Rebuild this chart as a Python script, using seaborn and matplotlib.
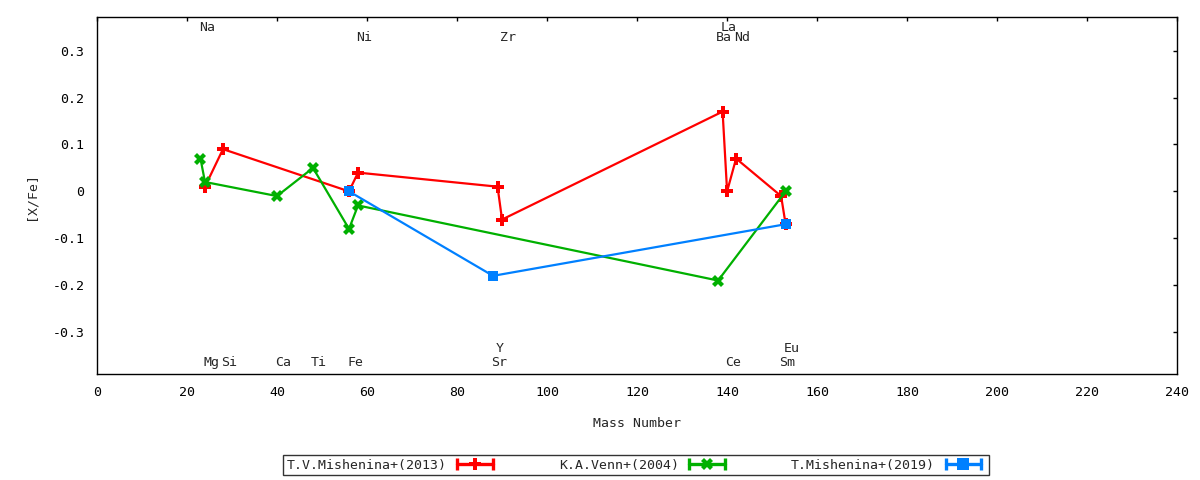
import matplotlib
matplotlib.use('Agg')
import matplotlib.pyplot as plt
import seaborn as sns
import pandas as pd
from matplotlib.lines import Line2D
from matplotlib.legend_handler import HandlerLine2D, HandlerTuple

# T.V.Mishenina+(2013)
mish13_mass = [24, 28, 56, 58, 89, 90, 139, 140, 142, 152, 153]
mish13_xfe = [0.01, 0.09, 0.00, 0.04, 0.01, -0.06, 0.17, 0.00, 0.07, -0.01, -0.07]
# K.A.Venn+(2004)
venn_mass = [23, 24, 40, 48, 56, 58, 138, 153]
venn_xfe = [0.07, 0.02, -0.01, 0.05, -0.08, -0.03, -0.19, 0.00]
# T.Mishenina+(2019)
mish19_mass = [56, 88, 153]
mish19_xfe = [0.00, -0.18, -0.07]

# element labels along the top / bottom of the frame
elements = ['Na', 'Mg', 'Si', 'Ca', 'Ti', 'Fe', 'Ni', 'Sr', 'Y', 'Zr',
            'Ba', 'La', 'Ce', 'Nd', 'Sm', 'Eu']
element_mass = [23, 24, 28, 40, 48, 56, 58, 88, 89, 90, 138, 139, 140, 142, 152, 153]
label_y = [0.35, -0.364, -0.364, -0.364, -0.364, -0.364, 0.327, -0.364, -0.335, 0.327,
           0.327, 0.35, -0.364, 0.327, -0.364, -0.335]

series = [
    ('T.V.Mishenina+(2013)', mish13_mass, mish13_xfe, '#ff0000', 'P'),
    ('K.A.Venn+(2004)', venn_mass, venn_xfe, '#00b000', 'X'),
    ('T.Mishenina+(2019)', mish19_mass, mish19_xfe, '#0080ff', 's'),
]

sns.set_style('white')
plt.rcParams['font.family'] = ['DejaVu Sans Mono']
fs = 9.5

fig, ax = plt.subplots(figsize=(12, 4.8), dpi=100)
fig.subplots_adjust(left=0.0808, right=0.981, top=0.964, bottom=0.221)

handles = []
hmap = {}
for i, (name, mass, xfe, col, mk) in enumerate(series):
    df = pd.DataFrame({'mass': mass, 'xfe': xfe})
    sns.lineplot(data=df, x='mass', y='xfe', ax=ax, color=col, sort=False,
                 linewidth=1.6, marker=mk, markersize=8 if mk != 's' else 7.2,
                 markeredgewidth=0, legend=False, zorder=3 + i)
    ends = Line2D([], [], color=col, lw=2.4, marker='|', markersize=8, markeredgewidth=2.4)
    mid = Line2D([], [], color=col, ls='none', marker=mk, markersize=8, markeredgewidth=0)
    hmap[ends] = HandlerLine2D(numpoints=2)
    hmap[mid] = HandlerLine2D(numpoints=1)
    handles.append((ends, mid))

for el, m, yy in zip(elements, element_mass, label_y):
    ax.text(m - 0.4, yy, el, ha='left', va='center', fontsize=fs)

ax.set_xlim(0, 240)
ax.set_ylim(-0.389, 0.371)
ax.set_xticks(range(0, 241, 20))
ax.set_yticks([-0.3, -0.2, -0.1, 0, 0.1, 0.2, 0.3])
ax.set_yticklabels(['-0.3', '-0.2', '-0.1', '0', '0.1', '0.2', '0.3'])
ax.tick_params(direction='in', top=True, right=True, length=3, width=1,
               labelsize=fs, pad=9, colors='black')
for sp in ax.spines.values():
    sp.set_color('black')
    sp.set_linewidth(1)
ax.set_xlabel('Mass Number', fontsize=fs, labelpad=13)
ax.set_ylabel('[X/Fe]', fontsize=fs, labelpad=11)

hmap[tuple] = HandlerTuple(ndivide=1)
leg = fig.legend(handles, [s[0] for s in series], loc='center',
                 bbox_to_anchor=(0.53, 0.031), ncol=3, markerfirst=False,
                 fontsize=fs, frameon=True, fancybox=False, handlelength=3.3,
                 handletextpad=0.5, columnspacing=4.7, borderpad=0.25,
                 handler_map=hmap)
leg.get_frame().set_edgecolor('black')
leg.get_frame().set_linewidth(1)

plt.savefig('out.png', dpi=100)
